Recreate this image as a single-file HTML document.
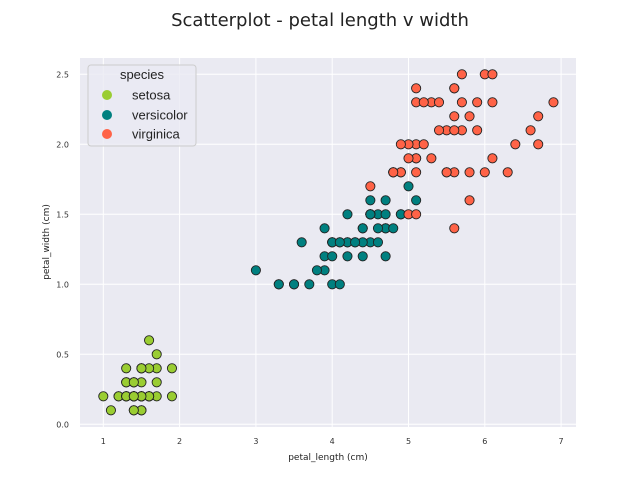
<!DOCTYPE html>
<html><head><meta charset="utf-8"><style>
body{margin:0;background:#fff;}
svg{display:block;font-family:"DejaVu Sans","Liberation Sans",sans-serif;}
</style></head><body>
<svg id="c" width="640" height="480" xmlns="http://www.w3.org/2000/svg">
<text x="320" y="26" text-anchor="middle" font-size="18" fill="#222">Scatterplot - petal length v width</text>
<rect x="80" y="58" width="496" height="369" fill="#eaeaf2"/>
<g id="grid"></g>
<g id="pts"></g>
<text x="328" y="460" text-anchor="middle" font-size="9" fill="#222">petal_length (cm)</text>
<text transform="translate(49,242) rotate(-90)" text-anchor="middle" font-size="9" fill="#222">petal_width (cm)</text>
<g font-family="Liberation Sans, sans-serif">
<rect x="88" y="65" width="108" height="81" rx="3" fill="#eaeaf2" fill-opacity="0.8" stroke="#ccc"/>
<text x="142" y="79" text-anchor="middle" font-size="13" fill="#222">species</text>
<circle cx="107" cy="95" r="5" fill="#9acd32"/>
<text x="132" y="99.5" font-size="13" fill="#222">setosa</text>
<circle cx="107" cy="115" r="5" fill="#008080"/>
<text x="132" y="119.5" font-size="13" fill="#222">versicolor</text>
<circle cx="107" cy="134" r="5" fill="#ff6347"/>
<text x="132" y="138.5" font-size="13" fill="#222">virginica</text>
</g>
</svg>
<script>
const xTicks=[1,2,3,4,5,6,7];
const yTicks=[0.0,0.5,1.0,1.5,2.0,2.5];
const setosaLen=[1.4,1.4,1.3,1.5,1.4,1.7,1.4,1.5,1.4,1.5,1.5,1.6,1.4,1.1,1.2,1.5,1.3,1.4,1.7,1.5,1.7,1.5,1.0,1.7,1.9,1.6,1.6,1.5,1.4,1.6,1.6,1.5,1.5,1.4,1.5,1.2,1.3,1.4,1.3,1.5,1.3,1.3,1.3,1.6,1.9,1.4,1.6,1.4,1.5,1.4];
const setosaWid=[.2,.2,.2,.2,.2,.4,.3,.2,.2,.1,.2,.2,.1,.1,.2,.4,.4,.3,.3,.3,.2,.4,.2,.5,.2,.2,.4,.2,.2,.2,.2,.4,.1,.2,.2,.2,.2,.1,.2,.2,.3,.3,.2,.6,.4,.3,.2,.2,.2,.2];
const versLen=[4.7,4.5,4.9,4.0,4.6,4.5,4.7,3.3,4.6,3.9,3.5,4.2,4.0,4.7,3.6,4.4,4.5,4.1,4.5,3.9,4.8,4.0,4.9,4.7,4.3,4.4,4.8,5.0,4.5,3.5,3.8,3.7,3.9,5.1,4.5,4.5,4.7,4.4,4.1,4.0,4.4,4.6,4.0,3.3,4.2,4.2,4.2,4.3,3.0,4.1];
const versWid=[1.4,1.5,1.5,1.3,1.5,1.3,1.6,1.0,1.3,1.4,1.0,1.5,1.0,1.4,1.3,1.4,1.5,1.0,1.5,1.1,1.8,1.3,1.5,1.2,1.3,1.4,1.4,1.7,1.5,1.0,1.1,1.0,1.2,1.6,1.5,1.6,1.5,1.3,1.3,1.3,1.2,1.4,1.2,1.0,1.3,1.2,1.3,1.3,1.1,1.3];
const virgLen=[6.0,5.1,5.9,5.6,5.8,6.6,4.5,6.3,5.8,6.1,5.1,5.3,5.5,5.0,5.1,5.3,5.5,6.7,6.9,5.0,5.7,4.9,6.7,4.9,5.7,6.0,4.8,4.9,5.6,5.8,6.1,6.4,5.6,5.1,5.6,6.1,5.6,5.5,4.8,5.4,5.6,5.1,5.1,5.9,5.7,5.2,5.0,5.2,5.4,5.1];
const virgWid=[2.5,1.9,2.1,1.8,2.2,2.1,1.7,1.8,1.8,2.5,2.0,1.9,2.1,2.0,2.4,2.3,1.8,2.2,2.3,1.5,2.3,2.0,2.0,1.8,2.1,1.8,1.8,1.8,2.1,1.6,1.9,2.0,2.2,1.5,1.4,2.3,2.4,1.8,1.8,2.1,2.4,2.3,1.9,2.3,2.5,2.3,1.9,2.0,2.3,1.8];
const NS='http://www.w3.org/2000/svg';
function xs(v){return 103.3+(v-1)*76.3;}
function ys(v){return 424.3-v*140;}
function mk(t,a,p){const e=document.createElementNS(NS,t);for(const k in a)e.setAttribute(k,a[k]);p.appendChild(e);return e;}
const g=document.getElementById('grid');
xTicks.forEach(t=>{
 const l=mk('line',{x1:xs(t),x2:xs(t),y1:58,y2:427,stroke:'#fff','stroke-width':1},g);
 
 
 const tx=mk('text',{x:xs(t),y:444,'text-anchor':'middle','font-size':8,fill:'#333'},g);
 
 
 tx.textContent=t;
});
yTicks.forEach(t=>{
 const l=mk('line',{x1:80,x2:576,y1:ys(t),y2:ys(t),stroke:'#fff','stroke-width':1},g);
 
 
 const tx=mk('text',{x:69,y:ys(t)+3,'text-anchor':'end','font-size':8,fill:'#333'},g);
 
 
 tx.textContent=t.toFixed(1);
});
const p=document.getElementById('pts');
[[setosaLen,setosaWid,'#9acd32','setosa'],[versLen,versWid,'#008080','versicolor'],[virgLen,virgWid,'#ff6347','virginica']].forEach(s=>{
 s[0].forEach((v,i)=>{
  const c=mk('circle',{cx:xs(v),cy:ys(s[1][i]),r:4.6,fill:s[2],stroke:'#222','stroke-width':0.9},p);
  
  
 });
});
</script>
</body></html>
